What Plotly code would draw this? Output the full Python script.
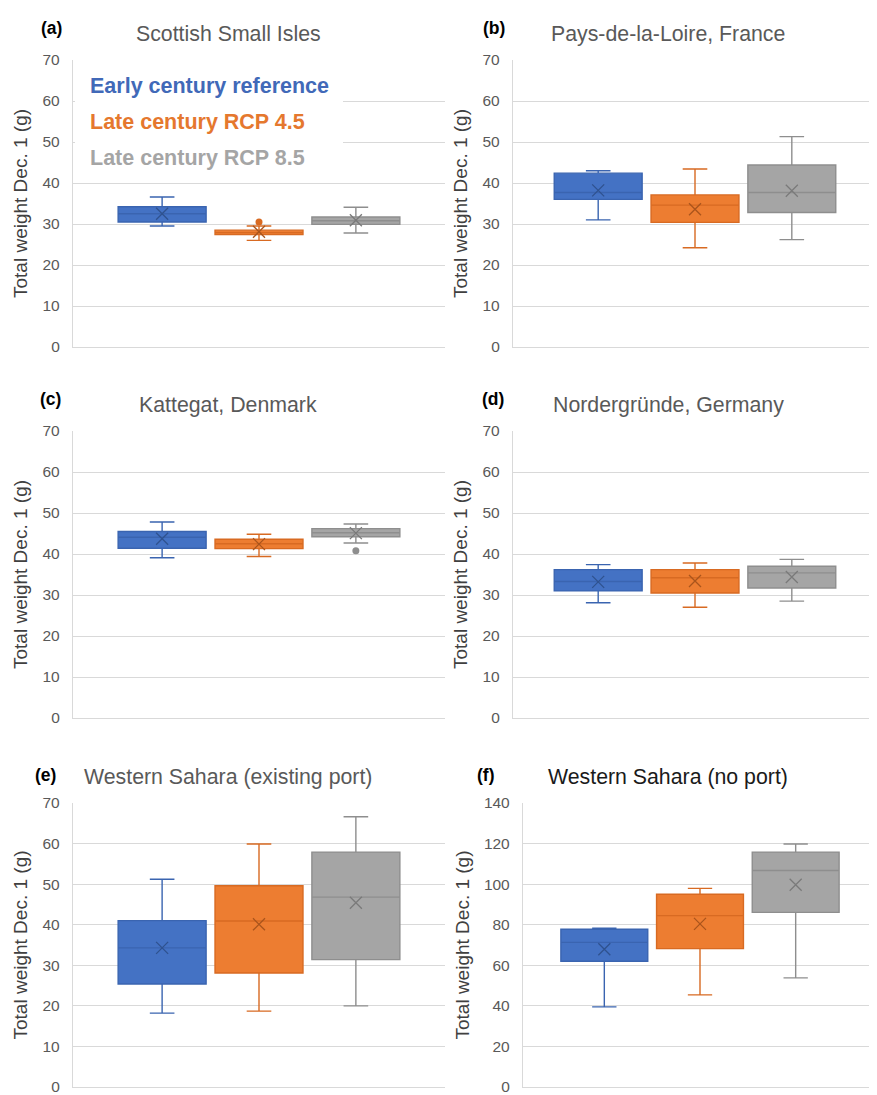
import plotly.graph_objects as go

# ---------------- data ----------------
PANEL_TITLES = ["Scottish Small Isles", "Pays-de-la-Loire, France", "Kattegat, Denmark",
                "Nordergründe, Germany", "Western Sahara (existing port)", "Western Sahara (no port)"]
PANEL_LABELS = ["(a)", "(b)", "(c)", "(d)", "(e)", "(f)"]
SERIES = ["Early century reference", "Late century RCP 4.5", "Late century RCP 8.5"]
Y_TITLE = "Total weight Dec. 1 (g)"
Y_MAX = [70, 70, 70, 70, 70, 140]
Y_DTICK = [10, 10, 10, 10, 10, 20]

# per-series statistics, one value per panel (a..f)
EARLY_LOW = [29.5, 31.0, 39.1, 28.1, 18.2, 39.5]
EARLY_Q1 = [30.5, 36.0, 41.4, 31.0, 25.4, 62.0]
EARLY_MED = [32.5, 37.7, 44.1, 33.3, 34.3, 71.3]
EARLY_Q3 = [34.2, 42.4, 45.5, 36.2, 41.0, 77.8]
EARLY_HIGH = [36.6, 43.0, 47.8, 37.4, 51.2, 78.3]
EARLY_MEAN = [32.5, 38.2, 43.7, 33.2, 34.3, 67.9]
EARLY_OUT = [[], [], [], [], [], []]

RCP45_LOW = [26.0, 24.2, 39.4, 27.0, 18.7, 45.4]
RCP45_Q1 = [27.4, 30.4, 41.3, 30.5, 28.1, 68.2]
RCP45_MED = [27.9, 34.6, 42.5, 34.2, 40.9, 84.5]
RCP45_Q3 = [28.5, 37.1, 43.6, 36.2, 49.6, 95.0]
RCP45_HIGH = [29.5, 43.4, 44.8, 37.8, 59.9, 97.9]
RCP45_MEAN = [28.1, 33.6, 42.4, 33.4, 40.1, 80.4]
RCP45_OUT = [[30.5], [], [], [], [], []]

RCP85_LOW = [27.8, 26.2, 42.7, 28.5, 20.0, 53.8]
RCP85_Q1 = [29.9, 32.8, 44.2, 31.7, 31.4, 86.1]
RCP85_MED = [30.8, 37.7, 45.2, 35.4, 46.8, 106.7]
RCP85_Q3 = [31.7, 44.4, 46.2, 37.0, 57.9, 115.8]
RCP85_HIGH = [34.1, 51.3, 47.3, 38.7, 66.6, 119.8]
RCP85_MEAN = [30.9, 38.1, 45.1, 34.4, 45.4, 99.7]
RCP85_OUT = [[], [], [40.8], [], [], []]

STATS = [
    (EARLY_LOW, EARLY_Q1, EARLY_MED, EARLY_Q3, EARLY_HIGH, EARLY_MEAN, EARLY_OUT),
    (RCP45_LOW, RCP45_Q1, RCP45_MED, RCP45_Q3, RCP45_HIGH, RCP45_MEAN, RCP45_OUT),
    (RCP85_LOW, RCP85_Q1, RCP85_MED, RCP85_Q3, RCP85_HIGH, RCP85_MEAN, RCP85_OUT),
]

# ---------------- style ----------------
PAGE_W, PAGE_H = 877, 1095
OFF = 8                      # default body margin of the html page
W, H = PAGE_W - OFF, PAGE_H - OFF
FONT = "Liberation Sans, Arial, sans-serif"
FILL = ["#4472C4", "#ED7D31", "#A5A5A5"]
EDGE = ["#3A64B0", "#D86A22", "#8E8E8E"]
MEANC = ["#2F528F", "#A9541C", "#7A7A7A"]
LEGC = ["#4169B8", "#E5782E", "#A5A5A5"]
GRID = "#D9D9D9"


def px(xp):
    return (xp - OFF) / W


def py(yp):
    return 1 - (yp - OFF) / H


# pixel layout of each panel on the page: (left, right, top, bottom)
PIX = [(73, 445, 60, 347), (513, 877, 60, 347),
       (73, 445, 431, 718), (513, 877, 431, 718),
       (73, 445, 803, 1087), (523, 877, 803, 1087)]
XRANGE = [(-0.92, 2.92), (-0.88, 2.88), (-0.92, 2.92), (-0.88, 2.88), (-0.92, 2.92), (-0.85, 2.85)]
TITLE_POS = [(228, 34), (668, 34), (228, 405), (668, 405), (228, 777), (668, 777)]
TITLE_COL = ["#595959"] * 5 + ["#1a1a1a"]
LABEL_POS = [(51, 28), (494, 28), (50, 399), (493, 399), (45, 775), (486, 775)]

fig = go.Figure()
layout = dict(width=W, height=H, margin=dict(l=0, r=0, t=0, b=0),
              paper_bgcolor="white", plot_bgcolor="white", showlegend=False,
              boxmode="overlay", boxgap=0.092, boxgroupgap=0.0,
              font=dict(family=FONT, color="#595959"))
annotations = []
shapes = []

for p in range(6):
    xa = "x" if p == 0 else f"x{p+1}"
    ya = "y" if p == 0 else f"y{p+1}"
    for s in range(3):
        low, q1, med, q3, high, mean, out = STATS[s]
        fig.add_trace(go.Box(
            x=[SERIES[s]], lowerfence=[low[p]], q1=[q1[p]], median=[med[p]],
            q3=[q3[p]], upperfence=[high[p]], name=SERIES[s],
            fillcolor=FILL[s], line=dict(color=EDGE[s], width=1.4),
            whiskerwidth=0.28, boxpoints=False, hoverinfo="skip",
            xaxis=xa, yaxis=ya))
        fig.add_trace(go.Scatter(
            x=[SERIES[s]], y=[mean[p]], mode="markers",
            marker=dict(symbol="x-thin-open", size=12,
                        line=dict(color=MEANC[s], width=1.3), color=MEANC[s]),
            hoverinfo="skip", xaxis=xa, yaxis=ya))
        if out[p]:
            fig.add_trace(go.Scatter(
                x=[SERIES[s]] * len(out[p]), y=out[p], mode="markers",
                marker=dict(symbol="circle", size=7, color=EDGE[s]),
                hoverinfo="skip", xaxis=xa, yaxis=ya))

    l, r, t, b = PIX[p]
    xkey = "xaxis" if p == 0 else f"xaxis{p+1}"
    ykey = "yaxis" if p == 0 else f"yaxis{p+1}"
    layout[xkey] = dict(domain=[px(l), min(px(r), 1.0)], anchor=ya, type="category",
                        categoryorder="array", categoryarray=SERIES,
                        range=list(XRANGE[p]), showticklabels=False, ticks="",
                        showgrid=False, showline=True, linecolor=GRID, linewidth=1.3,
                        zeroline=False, fixedrange=True)
    layout[ykey] = dict(domain=[py(b), py(t)], anchor=xa,
                        range=[0, Y_MAX[p]], dtick=Y_DTICK[p], tick0=0,
                        showgrid=True, gridcolor=GRID, gridwidth=1.3,
                        showline=True, linecolor=GRID, linewidth=1.3,
                        zeroline=False, ticks="", ticklabelstandoff=9,
                        ticklabeloverflow="allow",
                        tickfont=dict(size=15.5, color="#595959", family=FONT),
                        title=dict(text=Y_TITLE, standoff=9,
                                   font=dict(size=19, color="#404040", family=FONT)),
                        automargin=False, fixedrange=True)
    tx, ty = TITLE_POS[p]
    annotations.append(dict(text=PANEL_TITLES[p], x=px(tx), y=py(ty),
                            xref="paper", yref="paper", xanchor="center", yanchor="middle",
                            showarrow=False,
                            font=dict(size=21.3, color=TITLE_COL[p], family=FONT)))
    lx, ly = LABEL_POS[p]
    annotations.append(dict(text="<b>" + PANEL_LABELS[p] + "</b>", x=px(lx), y=py(ly),
                            xref="paper", yref="paper", xanchor="center", yanchor="middle",
                            showarrow=False,
                            font=dict(size=17.5, color="#000000", family=FONT)))

# legend (text-only, on white background inside panel a)
shapes.append(dict(type="rect", xref="paper", yref="paper",
                   x0=px(75), x1=px(343), y0=py(178), y1=py(64),
                   fillcolor="white", line=dict(width=0), layer="above"))
LEG_Y = [86, 122, 158]
for s in range(3):
    annotations.append(dict(text="<b>" + SERIES[s] + "</b>", x=px(88), y=py(LEG_Y[s]),
                            xref="paper", yref="paper", xanchor="left", yanchor="middle",
                            showarrow=False,
                            font=dict(size=21.5, color=LEGC[s], family=FONT)))

layout["annotations"] = annotations
layout["shapes"] = shapes
fig.update_layout(**layout)
fig.write_html("out.html")
